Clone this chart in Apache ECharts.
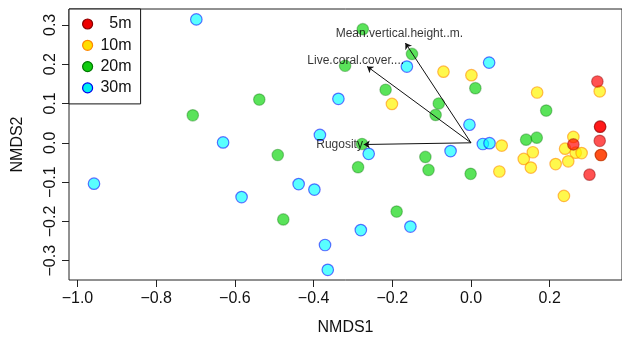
<!DOCTYPE html>
<html>
<head>
<meta charset="utf-8">
<script src="https://cdn.jsdelivr.net/npm/echarts@6/dist/echarts.min.js"></script>
<style>html,body{margin:0;padding:0;background:#fff;}#c{width:622px;height:341px;}</style>
</head>
<body>
<div id="c"></div>
<script>
// ---- Data ----
const groups = ['5m', '10m', '20m', '30m'];
const xTicks = [-1.0, -0.8, -0.6, -0.4, -0.2, 0.0, 0.2];
const yTicks = [-0.3, -0.2, -0.1, 0.0, 0.1, 0.2, 0.3];

const nmds1_5m = [0.321, 0.328, 0.328, 0.327, 0.330, 0.301, 0.260];
const nmds2_5m = [0.156, 0.041, 0.041, 0.005, -0.031, -0.081, -0.004];

const nmds1_10m = [-0.201, -0.070, 0.001, 0.168, 0.327, 0.078, 0.072, 0.260, 0.239, 0.266, 0.281, 0.157, 0.134, 0.247, 0.152, 0.215, 0.236, 0.330];
const nmds2_10m = [0.099, 0.181, 0.172, 0.128, 0.131, -0.007, -0.073, 0.015, -0.015, -0.025, -0.026, -0.024, -0.041, -0.047, -0.063, -0.054, -0.135, -0.031];

const nmds1_20m = [-0.275, -0.150, -0.320, -0.217, 0.011, 0.191, -0.538, -0.707, -0.082, -0.090, -0.277, 0.140, 0.167, -0.491, -0.116, -0.287, -0.108, -0.001, -0.189, -0.477];
const nmds2_20m = [0.289, 0.226, 0.196, 0.135, 0.139, 0.082, 0.110, 0.070, 0.100, 0.071, -0.003, 0.008, 0.013, -0.031, -0.036, -0.062, -0.069, -0.079, -0.175, -0.195];

const nmds1_30m = [-0.698, -0.163, 0.046, -0.337, -0.004, -0.384, -0.630, -0.260, -0.052, 0.030, 0.047, -0.958, -0.438, -0.398, -0.583, -0.280, -0.154, -0.371, -0.364];
const nmds2_30m = [0.314, 0.194, 0.204, 0.112, 0.046, 0.020, 0.001, -0.028, -0.021, -0.003, -0.001, -0.104, -0.105, -0.119, -0.138, -0.222, -0.213, -0.260, -0.323];

const vectorNames = ['Mean.vertical.height..m.', 'Live.coral.cover....', 'Rugosity'];
const vectorX = [-0.1668, -0.2641, -0.2725];
const vectorY = [0.2538, 0.1944, -0.0043];
const labelX = [-0.182, -0.293, -0.334];
const labelY = [0.278, 0.2094, -0.0043];

// ---- Styles ----
const fills = ['rgba(255,0,0,0.68)', 'rgba(255,245,0,0.70)', 'rgba(20,215,20,0.70)', 'rgba(0,255,255,0.65)'];
const borders = ['rgba(139,0,0,0.45)', 'rgba(255,140,0,0.60)', 'rgba(0,110,0,0.35)', 'rgba(0,0,255,0.55)'];
const legendFills = ['#ee0000', '#ffdd00', '#11cc11', '#00eeee'];
const legendBorders = ['#880000', '#ff8800', '#007700', '#0000ee'];
const FONT = '"Liberation Sans", Arial, Helvetica, sans-serif';

const fmt = v => (Math.abs(v) < 1e-9 ? 0 : v).toFixed(1).replace('-', '\u2212');
const pts = (xs, ys) => xs.map((x, i) => [x, ys[i]]);
const groupData = [pts(nmds1_5m, nmds2_5m), pts(nmds1_10m, nmds2_10m), pts(nmds1_20m, nmds2_20m), pts(nmds1_30m, nmds2_30m)];

const drawOrder = [3, 2, 1, 0];
const series = drawOrder.map(g => ({
  name: groups[g],
  type: 'scatter',
  data: groupData[g],
  symbol: 'circle',
  symbolSize: 11.5,
  itemStyle: { color: fills[g], borderColor: borders[g], borderWidth: 1.2, opacity: 1 },
  z: 2
}));

series.push({
  name: 'vectors',
  type: 'lines',
  coordinateSystem: 'cartesian2d',
  data: vectorX.map((vx, i) => ({ coords: [[0, 0], [vx, vectorY[i]]] })),
  symbol: ['none', 'arrow'],
  symbolSize: [0, 6],
  lineStyle: { color: '#111', width: 1, opacity: 1 },
  z: 3,
  silent: true
});

series.push({
  name: 'vectorLabels',
  type: 'scatter',
  data: labelX.map((lx, i) => ({ value: [lx, labelY[i]], name: vectorNames[i] })),
  symbolSize: 0,
  label: {
    show: true, position: 'inside', formatter: p => p.name,
    color: '#000', fontSize: 12, fontFamily: FONT
  },
  z: 4,
  silent: true
});

const chart = echarts.init(document.getElementById('c'), null, { renderer: 'canvas' });
chart.setOption({
  animation: false,
  backgroundColor: '#fff',
  grid: { left: 69, top: 9, width: 555, height: 272, show: true, borderColor: '#222', borderWidth: 1, backgroundColor: 'transparent' },
  xAxis: {
    type: 'value', min: -1.0215, max: 0.3836,
    name: 'NMDS1', nameLocation: 'middle', nameGap: 40,
    nameTextStyle: { fontSize: 16, color: '#111', fontFamily: FONT },
    axisLine: { show: false, onZero: false },
    axisTick: { show: true, length: 7, lineStyle: { color: '#222' }, customValues: xTicks },
    axisLabel: { show: true, margin: 11, fontSize: 16, color: '#111', fontFamily: FONT, customValues: xTicks, formatter: fmt },
    splitLine: { show: false }
  },
  yAxis: {
    type: 'value', min: -0.349, max: 0.3404,
    name: 'NMDS2', nameLocation: 'middle', nameGap: 43, nameRotate: 90,
    nameTextStyle: { fontSize: 16, color: '#111', fontFamily: FONT },
    axisLine: { show: false, onZero: false },
    axisTick: { show: true, length: 7, lineStyle: { color: '#222' }, customValues: yTicks },
    axisLabel: { show: true, margin: 10, rotate: 90, fontSize: 16, color: '#111', fontFamily: FONT, customValues: yTicks, formatter: fmt },
    splitLine: { show: false }
  },
  legend: {
    orient: 'vertical', left: 69, top: 9,
    padding: [7, 9, 8, 13],
    borderColor: '#111', borderWidth: 1, borderRadius: 0,
    backgroundColor: '#fff',
    itemWidth: 10, itemHeight: 10, itemGap: 5.3,
    icon: 'circle',
    selectedMode: false,
    formatter: '{a|{name}}',
    textStyle: { fontSize: 16, color: '#111', fontFamily: FONT, rich: { a: { width: 34, align: 'right', fontSize: 16, lineHeight: 16, fontFamily: FONT, color: '#111' } } },
    data: groups.map((g, i) => ({ name: g, icon: 'circle', itemStyle: { color: legendFills[i], borderColor: legendBorders[i], borderWidth: 1.2, opacity: 1 } }))
  },
  series: series
});
</script>
</body>
</html>
